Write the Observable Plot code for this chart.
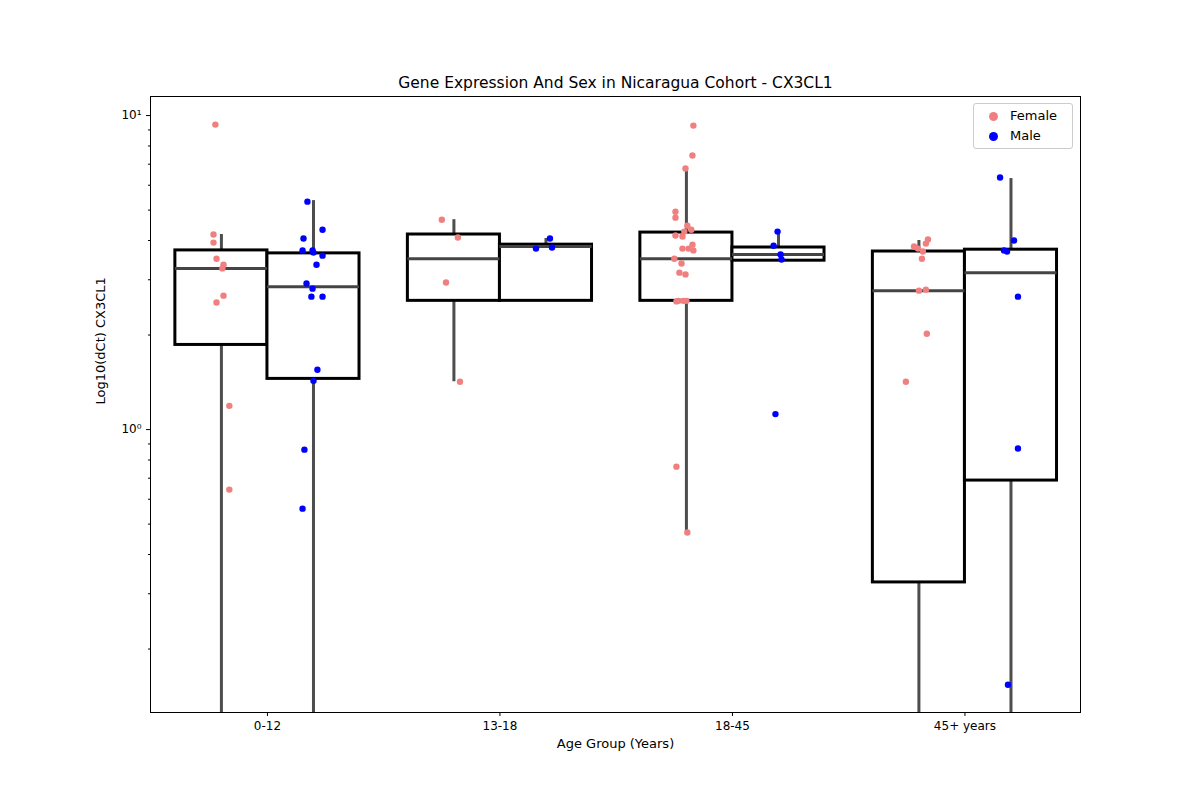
<!DOCTYPE html>
<html><head><meta charset="utf-8">
<script src="https://cdn.jsdelivr.net/npm/d3@7"></script>
<script src="https://cdn.jsdelivr.net/npm/@observablehq/plot@0.6"></script>
<style>
body{margin:0;background:#fff;font-family:"DejaVu Sans",sans-serif}
#wrap{position:relative;width:1200px;height:800px}
#legend{position:absolute;left:973px;top:103px;width:100px;height:46px;border:1px solid #ccc;border-radius:3px;background:#fff;font-size:13px;line-height:20px;padding:2px 0 0 0;box-sizing:border-box}
#legend div{display:flex;align-items:center}
#legend span.d{display:inline-block;width:9px;height:9px;border-radius:50%;margin:0 12px 0 15px}
</style></head>
<body><div id="wrap"><div id="chart"></div>
<div id="legend"><div><span class="d" style="background:#F08080"></span>Female</div><div><span class="d" style="background:#0000FF"></span>Male</div></div></div>
<script>
const groups = ['0-12', '13-18', '18-45', '45+ years']
const sexes = ['Female', 'Male']
const colors = {Female: '#F08080', Male: '#0000FF'}

// box stats per group: [whiskerLow, q1, median, q3, whiskerHigh]
const boxFemale = [
  [0.05, 1.86, 3.26, 3.72, 4.18],
  [1.42, 2.57, 3.50, 4.18, 4.66],
  [0.473, 2.57, 3.50, 4.24, 6.73],
  [0.05, 0.326, 2.77, 3.69, 4.0]
]
const boxMale = [
  [0.05, 1.45, 2.85, 3.64, 5.36],
  [2.57, 2.57, 3.83, 3.88, 4.06],
  [3.45, 3.45, 3.61, 3.80, 4.24],
  [0.05, 0.688, 3.16, 3.74, 6.3]
]

// points: [groupIndex, jitter, value]
const femalePts = [
  [0,-0.026,9.36],[0,-0.034,4.18],[0,-0.034,3.94],[0,-0.021,3.50],[0,0.009,3.35],[0,0.004,3.26],[0,0.009,2.67],[0,-0.021,2.54],[0,0.034,1.19],[0,0.034,0.644],
  [1,-0.052,4.66],[1,0.017,4.09],[1,-0.034,2.94],[1,0.026,1.42],
  [2,0.030,9.29],[2,0.026,7.46],[2,-0.004,6.78],[2,-0.047,4.94],[2,-0.047,4.73],[2,0.004,4.46],[2,0.021,4.33],[2,-0.009,4.27],[2,-0.047,4.15],[2,-0.017,4.12],[2,0.026,3.88],[2,-0.017,3.77],[2,0.009,3.77],[2,0.030,3.72],[2,-0.052,3.50],[2,-0.021,3.38],[2,-0.030,3.16],[2,-0.004,3.12],[2,-0.034,2.57],[2,-0.013,2.57],[2,-0.043,2.56],[2,0.0,2.57],[2,-0.043,0.762],[2,0.004,0.470],
  [3,-0.056,1.42],[3,0.034,2.02],[3,0.0,2.77],[3,0.030,2.79],[3,0.013,3.50],[3,0.017,3.69],[3,-0.004,3.77],[3,-0.021,3.83],[3,0.039,4.03],[3,0.030,3.91]
]
const malePts = [
  [0,-0.026,5.32],[0,-0.043,4.06],[0,-0.047,3.72],[0,-0.004,3.72],[0,0.0,3.66],[0,0.039,4.33],[0,0.039,3.58],[0,0.013,3.35],[0,-0.030,2.92],[0,-0.004,2.81],[0,-0.009,2.65],[0,0.039,2.65],[0,0.017,1.55],[0,0.0,1.43],[0,-0.039,0.863],[0,-0.047,0.560],
  [1,-0.043,3.77],[1,0.017,4.06],[1,0.026,3.80],
  [2,-0.004,4.27],[2,-0.021,3.85],[2,0.009,3.61],[2,0.013,3.48],[2,-0.013,1.12],
  [3,-0.047,6.35],[3,0.013,4.0],[3,-0.030,3.72],[3,-0.017,3.69],[3,0.030,2.65],[3,0.030,0.870],[3,-0.013,0.154]
]

const W = 0.396
const boxes = []
groups.forEach((g, i) => {
  ;[[boxFemale[i], -1], [boxMale[i], 0]].forEach(([s, side]) => {
    const x1 = i + side * W, x2 = x1 + W
    boxes.push({x1, x2, xc: (x1 + x2) / 2, lo: s[0], q1: s[1], med: s[2], q3: s[3], hi: s[4]})
  })
})
const pts = []
femalePts.forEach(([g, j, v]) => pts.push({x: g - W / 2 + j, v, sex: 'Female'}))
malePts.forEach(([g, j, v]) => pts.push({x: g + W / 2 + j, v, sex: 'Male'}))

const minor = []
for (const d of [0.1, 1]) for (let k = 2; k <= 9; k++) minor.push(d * k)

const chart = Plot.plot({
  width: 1200, height: 800,
  marginTop: 96, marginLeft: 150, marginRight: 120, marginBottom: 88,
  style: {fontFamily: '"DejaVu Sans", sans-serif', fontSize: '13px', color: '#000'},
  x: {domain: [-0.503, 3.497], label: null},
  y: {type: 'log', domain: [0.1256, 11.5], label: null},
  marks: [
    Plot.axisX({ticks: [0, 1, 2, 3], tickFormat: i => groups[i], tickSize: 4, label: null, fontSize: 12}),
    Plot.axisY({ticks: [1, 10], tickFormat: d => d === 1 ? '10⁰' : '10¹', tickSize: 4, label: null, fontSize: 12}),
    Plot.axisY({ticks: minor, tickFormat: () => '', tickSize: 2, label: null}),
    Plot.ruleX(boxes, {x: 'xc', y1: 'lo', y2: 'q1', stroke: '#4d4d4d', strokeWidth: 3, clip: true}),
    Plot.ruleX(boxes, {x: 'xc', y1: 'q3', y2: 'hi', stroke: '#4d4d4d', strokeWidth: 3, clip: true}),
    Plot.rect(boxes, {x1: 'x1', x2: 'x2', y1: 'q1', y2: 'q3', fill: 'white', stroke: 'black', strokeWidth: 3, clip: true}),
    Plot.ruleY(boxes, {x1: 'x1', x2: 'x2', y: 'med', stroke: '#444', strokeWidth: 3}),
    Plot.dot(pts, {x: 'x', y: 'v', fill: d => colors[d.sex], r: 3.2, clip: true}),
    Plot.frame({stroke: 'black', strokeWidth: 1}),
    Plot.text(['Gene Expression And Sex in Nicaragua Cohort - CX3CL1'], {frameAnchor: 'top', dy: -20, fontSize: 15.5}),
    Plot.text(['Age Group (Years)'], {frameAnchor: 'bottom', dy: 35, fontSize: 13}),
    Plot.text(['Log10(dCt) CX3CL1'], {frameAnchor: 'left', dx: -50, rotate: -90, fontSize: 13})
  ]
})
document.getElementById('chart').append(chart)
</script></body></html>
